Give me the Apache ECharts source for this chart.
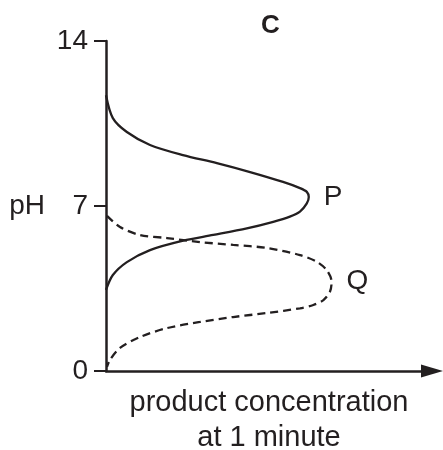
<!DOCTYPE html>
<html>
<head>
<meta charset="utf-8">
<script src="https://cdn.jsdelivr.net/npm/echarts@6/dist/echarts.min.js"></script>
<style>
  html, body { margin: 0; padding: 0; background: #fff; }
  #chart { width: 443px; height: 450px; }
</style>
</head>
<body>
<div id="chart"></div>
<script>
// pH axis ticks
var yTicks = [0, 7, 14]
var curveP = [
  [0, 11.7], [0.21, 10.73], [0.64, 10.14], [1.35, 9.59], [2.36, 9.16], [3.4, 8.82],
  [4.42, 8.44], [5.43, 8.02], [5.95, 7.76], [6.16, 7.6], [6.22, 7.38], [6.16, 7.11],
  [5.95, 6.76], [5.64, 6.55], [5.13, 6.33], [4.32, 6.05], [3.29, 5.77], [2.37, 5.53],
  [1.35, 5.13], [0.64, 4.62], [0.21, 4.07], [0, 3.44]
]
// curve Q (dashed)
var curveQ = [
  [0.03, 6.58], [0.43, 6.11], [1.04, 5.77], [1.87, 5.64], [2.88, 5.47], [3.9, 5.35],
  [4.94, 5.22], [5.95, 4.92], [6.46, 4.64], [6.77, 4.28], [6.92, 3.79], [6.87, 3.36],
  [6.67, 3.01], [6.36, 2.8], [5.95, 2.66], [4.94, 2.46], [3.9, 2.29], [2.88, 2.08],
  [1.87, 1.82], [1.04, 1.44], [0.43, 0.98], [0.12, 0.47], [0.03, 0.17]
]
// label anchors at the peaks
var peakLabels = [
  { name: 'P', value: [6.22, 7.38] },
  { name: 'Q', value: [6.92, 3.79] }
]

var ink = '#231f20'
var font = 'Liberation Sans, Arial, sans-serif'

var chart = echarts.init(document.getElementById('chart'))
chart.setOption({
  animation: false,
  title: {
    text: 'C',
    left: 256,
    top: 8,
    textStyle: { fontFamily: font, fontWeight: 'bold', fontSize: 26, color: ink }
  },
  grid: { left: 106, right: 11, top: 41, bottom: 79, outerBoundsMode: 'none' },
  xAxis: {
    type: 'value',
    min: 0,
    max: 10,
    name: 'product concentration\nat 1 minute',
    nameLocation: 'middle',
    nameGap: 14,
    nameTextStyle: { fontFamily: font, fontSize: 29, color: ink, lineHeight: 35, verticalAlign: 'top' },
    axisLine: { lineStyle: { color: ink, width: 2.5 }, symbol: ['none', 'triangle'], symbolSize: [13, 22] },
    axisTick: { show: false },
    axisLabel: { show: false },
    splitLine: { show: false }
  },
  yAxis: {
    type: 'value',
    min: 0,
    max: 14,
    interval: 7,
    name: 'pH',
    nameLocation: 'middle',
    nameRotate: 0,
    nameGap: 61,
    nameTextStyle: { fontFamily: font, fontSize: 28, color: ink },
    axisLine: { show: true, lineStyle: { color: ink, width: 2.5 } },
    axisTick: { show: true, length: 12, lineStyle: { color: ink, width: 2 } },
    axisLabel: {
      margin: 18,
      fontFamily: font,
      fontSize: 28,
      color: ink,
      formatter: function (v) { return yTicks.indexOf(v) > -1 ? String(v) : '' }
    },
    splitLine: { show: false }
  },
  series: [
    {
      name: 'P',
      type: 'line',
      data: curveP,
      smooth: 0.3,
      showSymbol: false,
      lineStyle: { color: ink, width: 2.3 }
    },
    {
      name: 'Q',
      type: 'line',
      data: curveQ,
      smooth: 0.3,
      showSymbol: false,
      lineStyle: { color: ink, width: 2.3, type: [8, 5] }
    },
    {
      type: 'scatter',
      data: peakLabels,
      symbolSize: 0,
      itemStyle: { opacity: 1 },
      label: {
        show: true,
        position: 'right',
        distance: 15,
        formatter: '{b}',
        fontFamily: font,
        fontSize: 28,
        color: ink
      }
    }
  ]
})
</script>
</body>
</html>
